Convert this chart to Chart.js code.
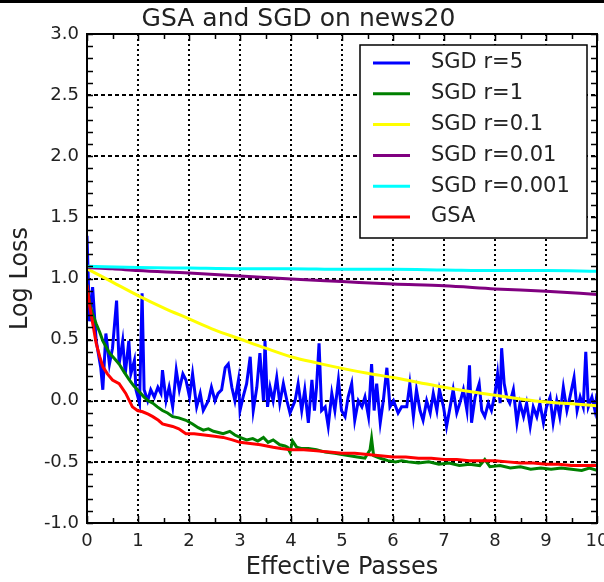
<!DOCTYPE html>
<html>
<head>
<meta charset="utf-8">
<title>GSA and SGD on news20</title>
<script src="https://cdn.jsdelivr.net/npm/chart.js@4.4.0/dist/chart.umd.min.js"></script>
<style>
  html, body { margin: 0; padding: 0; background: #fff; }
  canvas { display: block; }
</style>
</head>
<body>
<canvas id="lossChart" width="604" height="582"></canvas>
<script>
// log loss vs effective passes, [pass, loss]
var sgdR5 = [
  [0, 1.35], [0.05, 0.65], [0.11, 0.93], [0.18, 0.49], [0.27, 0.27], [0.31, 0.09],
  [0.37, 0.55], [0.44, 0.30], [0.50, 0.43], [0.58, 0.82], [0.63, 0.30], [0.70, 0.49],
  [0.75, 0.22], [0.82, 0.49], [0.86, 0.22], [0.93, 0.33], [0.96, 0.09], [1.03, -0.02],
  [1.08, 0.88], [1.12, 0.09], [1.19, 0.00], [1.25, 0.09], [1.32, 0.03], [1.39, 0.11],
  [1.45, 0.06], [1.48, 0.25], [1.55, 0.00], [1.61, 0.11], [1.68, -0.05], [1.75, 0.25],
  [1.81, 0.09], [1.88, 0.22], [1.94, 0.17], [2.01, 0.03], [2.07, 0.22], [2.15, -0.05],
  [2.22, 0.06], [2.28, -0.08], [2.38, 0.00], [2.44, 0.11], [2.51, 0.00], [2.57, 0.06],
  [2.64, 0.09], [2.71, 0.27], [2.77, 0.30], [2.84, 0.11], [2.90, 0.00], [2.97, 0.17],
  [3.00, -0.08], [3.06, 0.03], [3.13, 0.14], [3.20, 0.36], [3.26, -0.08], [3.33, 0.11],
  [3.39, 0.39], [3.46, 0.00], [3.49, 0.49], [3.54, -0.05], [3.59, 0.11], [3.65, 0.00],
  [3.72, 0.19], [3.78, -0.02], [3.85, 0.14], [3.92, 0.00], [3.98, -0.10], [4.08, 0.00],
  [4.14, 0.14], [4.21, -0.08], [4.27, 0.09], [4.34, -0.18], [4.41, 0.17], [4.46, -0.08],
  [4.50, 0.11], [4.55, 0.47], [4.60, -0.08], [4.67, -0.05], [4.73, -0.21], [4.80, 0.06],
  [4.86, -0.08], [4.93, 0.17], [4.99, -0.08], [5.06, -0.13], [5.12, 0.03], [5.19, 0.14],
  [5.25, -0.16], [5.32, 0.00], [5.39, -0.05], [5.45, 0.03], [5.52, -0.13], [5.58, 0.30],
  [5.63, -0.08], [5.68, 0.14], [5.75, -0.18], [5.81, 0.00], [5.88, 0.27], [5.94, -0.05],
  [6.01, 0.00], [6.10, -0.10], [6.17, -0.05], [6.27, -0.05], [6.33, 0.14], [6.40, -0.13],
  [6.46, 0.09], [6.53, -0.08], [6.59, -0.16], [6.66, 0.00], [6.73, -0.10], [6.79, 0.06],
  [6.86, -0.08], [6.91, 0.09], [6.99, -0.05], [7.05, -0.21], [7.12, -0.05], [7.18, 0.09],
  [7.25, -0.10], [7.31, -0.02], [7.38, 0.09], [7.45, -0.08], [7.50, 0.29], [7.54, -0.18],
  [7.61, 0.03], [7.69, 0.14], [7.74, -0.08], [7.80, -0.13], [7.87, -0.02], [7.93, -0.08],
  [8.00, 0.06], [8.05, 0.22], [8.10, -0.02], [8.13, 0.43], [8.18, 0.14], [8.23, 0.03],
  [8.29, -0.02], [8.36, 0.09], [8.43, -0.18], [8.49, -0.02], [8.56, -0.13], [8.62, -0.02],
  [8.69, -0.21], [8.75, -0.05], [8.82, -0.13], [8.88, -0.02], [8.95, -0.18], [9.01, -0.05],
  [9.08, 0.03], [9.14, -0.18], [9.21, 0.00], [9.27, -0.13], [9.34, 0.11], [9.41, -0.08],
  [9.47, 0.03], [9.55, 0.19], [9.61, -0.08], [9.67, 0.03], [9.73, -0.05], [9.78, 0.40],
  [9.83, -0.05], [9.90, 0.03], [9.96, -0.08], [10, 0.06]
];
var sgdR1 = [
  [0, 0.95], [0.05, 0.80], [0.10, 0.72], [0.18, 0.63], [0.25, 0.56], [0.31, 0.49],
  [0.44, 0.39], [0.55, 0.34], [0.63, 0.30], [0.72, 0.24], [0.83, 0.17], [0.92, 0.12],
  [0.99, 0.09], [1.12, 0.03], [1.20, 0.00], [1.29, -0.02], [1.38, -0.05], [1.48, -0.08],
  [1.58, -0.10], [1.68, -0.13], [1.80, -0.14], [1.94, -0.16], [2.07, -0.19], [2.18, -0.22],
  [2.28, -0.24], [2.38, -0.23], [2.48, -0.25], [2.58, -0.26], [2.67, -0.27], [2.80, -0.25],
  [2.90, -0.28], [3.00, -0.30], [3.13, -0.32], [3.25, -0.31], [3.35, -0.33], [3.46, -0.30],
  [3.55, -0.34], [3.65, -0.32], [3.78, -0.36], [3.88, -0.37], [3.93, -0.38], [3.98, -0.42],
  [4.03, -0.33], [4.11, -0.38], [4.20, -0.39], [4.34, -0.39], [4.50, -0.40], [4.67, -0.42],
  [4.86, -0.43], [5.00, -0.44], [5.15, -0.45], [5.30, -0.46], [5.45, -0.47], [5.55, -0.40],
  [5.58, -0.31], [5.62, -0.45], [5.75, -0.47], [5.90, -0.49], [6.05, -0.50], [6.17, -0.49],
  [6.30, -0.50], [6.50, -0.51], [6.70, -0.50], [6.90, -0.52], [7.10, -0.51], [7.30, -0.53],
  [7.50, -0.52], [7.70, -0.53], [7.80, -0.48], [7.90, -0.54], [8.10, -0.53], [8.30, -0.55],
  [8.50, -0.54], [8.70, -0.56], [8.90, -0.55], [9.10, -0.56], [9.30, -0.55], [9.50, -0.56],
  [9.70, -0.57], [9.85, -0.55], [10, -0.57]
];
var sgdR01 = [
  [0, 1.08], [0.5, 0.97], [1, 0.86], [1.5, 0.76], [2, 0.67], [2.5, 0.58], [3, 0.505],
  [3.5, 0.43], [4, 0.36], [4.5, 0.31], [5, 0.265], [5.5, 0.225], [6, 0.19], [6.5, 0.15],
  [7, 0.11], [7.5, 0.075], [8, 0.045], [8.5, 0.015], [9, -0.01], [9.5, -0.025], [10, -0.04]
];
var sgdR001 = [
  [0, 1.09], [0.5, 1.08], [1, 1.065], [2, 1.045], [3, 1.02], [4, 0.995], [5, 0.975],
  [6, 0.955], [7, 0.94], [8, 0.915], [9, 0.895], [10, 0.87]
];
var sgdR0001 = [
  [0, 1.10], [1, 1.09], [2, 1.085], [3, 1.08], [4, 1.08], [5, 1.075], [6, 1.075],
  [7, 1.07], [8, 1.065], [9, 1.065], [10, 1.06]
];
var gsa = [
  [0, 0.95], [0.05, 0.78], [0.10, 0.66], [0.18, 0.47], [0.25, 0.36], [0.31, 0.28],
  [0.40, 0.22], [0.50, 0.17], [0.63, 0.14], [0.76, 0.06], [0.89, -0.05], [0.99, -0.08],
  [1.09, -0.09], [1.20, -0.11], [1.29, -0.13], [1.40, -0.16], [1.48, -0.19], [1.58, -0.20],
  [1.68, -0.21], [1.80, -0.23], [1.94, -0.27], [2.10, -0.27], [2.30, -0.28], [2.50, -0.29],
  [2.67, -0.30], [2.85, -0.32], [3.00, -0.34], [3.20, -0.35], [3.40, -0.36], [3.65, -0.38],
  [3.80, -0.39], [4.00, -0.40], [4.25, -0.40], [4.50, -0.41], [4.75, -0.42], [5.00, -0.43],
  [5.25, -0.43], [5.50, -0.44], [5.75, -0.45], [6.00, -0.46], [6.25, -0.46], [6.50, -0.47],
  [6.75, -0.47], [7.00, -0.48], [7.25, -0.48], [7.50, -0.49], [7.75, -0.49], [8.00, -0.49],
  [8.25, -0.50], [8.50, -0.51], [8.75, -0.51], [9.00, -0.52], [9.25, -0.52], [9.50, -0.53],
  [9.75, -0.53], [10, -0.53]
];

var seriesLabels = ['SGD r=5', 'SGD r=1', 'SGD r=0.1', 'SGD r=0.01', 'SGD r=0.001', 'GSA'];
var seriesColors = ['#0000ff', '#008000', '#ffff00', '#800080', '#00ffff', '#ff0000'];
var seriesData = [sgdR5, sgdR1, sgdR01, sgdR001, sgdR0001, gsa];
var smoothSeries = [false, false, true, true, true, false];

var xTickStep = 1, yTickStep = 0.5;
var xRange = [0, 10], yRange = [-1, 3];

var FONT = 'DejaVu Sans';

// frame, inward tick marks and boxed legend, matplotlib style
var plotDecor = {
  id: 'plotDecor',
  beforeDraw: function(chart) {
    var ctx = chart.ctx;
    ctx.save();
    ctx.fillStyle = '#fff';
    ctx.fillRect(0, 0, chart.width, chart.height);
    ctx.fillStyle = '#000';
    ctx.fillRect(0, 0, chart.width, 3);
    ctx.restore();
  },
  afterDraw: function(chart) {
    var ctx = chart.ctx, a = chart.chartArea;
    var xs = chart.scales.x, ys = chart.scales.y;
    ctx.save();
    ctx.strokeStyle = '#000';
    ctx.lineWidth = 1.5;
    ctx.beginPath();
    for (var i = 0; i <= 20; i++) {
      var px = Math.round(xs.getPixelForValue(i / 2)) + 0.5;
      var len = i % 2 === 0 ? 7 : 5;
      ctx.moveTo(px, a.bottom); ctx.lineTo(px, a.bottom - len);
      ctx.moveTo(px, a.top); ctx.lineTo(px, a.top + len);
    }
    for (var k = -10; k <= 30; k++) {
      var py = Math.round(ys.getPixelForValue(k / 10)) + 0.5;
      ctx.moveTo(a.left, py); ctx.lineTo(a.left + 6, py);
      ctx.moveTo(a.right, py); ctx.lineTo(a.right - 6, py);
    }
    ctx.stroke();

    ctx.lineWidth = 2;
    ctx.strokeRect(a.left, a.top, a.right - a.left, a.bottom - a.top);

    // legend box
    var box = { left: 360, top: 45, width: 227, height: 193 };
    ctx.fillStyle = '#fff';
    ctx.fillRect(box.left, box.top, box.width, box.height);
    ctx.lineWidth = 1.5;
    ctx.strokeRect(box.left, box.top, box.width, box.height);
    ctx.font = '21px "' + FONT + '"';
    ctx.textBaseline = 'middle';
    ctx.textAlign = 'left';
    chart.data.datasets.forEach(function(ds, i) {
      var ry = box.top + 18 + i * 30.8;
      ctx.strokeStyle = ds.borderColor;
      ctx.lineWidth = 3;
      ctx.beginPath();
      ctx.moveTo(box.left + 13, ry);
      ctx.lineTo(box.left + 50, ry);
      ctx.stroke();
      ctx.fillStyle = '#222';
      ctx.fillText(ds.label, box.left + 71, ry);
    });
    ctx.restore();
  }
};

var datasets = seriesData.map(function(pts, i) {
  return {
    label: seriesLabels[i],
    data: pts.map(function(p) { return { x: p[0], y: p[1] }; }),
    borderColor: seriesColors[i],
    backgroundColor: seriesColors[i],
    borderWidth: 3,
    pointRadius: 0,
    fill: false,
    tension: 0,
    cubicInterpolationMode: smoothSeries[i] ? 'monotone' : 'default',
    order: seriesData.length - i
  };
});

var tickFont = { family: FONT, size: 18 };

new Chart(document.getElementById('lossChart'), {
  type: 'line',
  data: { datasets: datasets },
  options: {
    responsive: false,
    animation: false,
    layout: { padding: { left: 0, right: 7, top: 0, bottom: 0 } },
    plugins: {
      legend: { display: false },
      tooltip: { enabled: false },
      title: {
        display: true,
        text: 'GSA and SGD on news20',
        color: '#222',
        font: { family: FONT, size: 25, weight: 'normal' },
        padding: { top: 4, bottom: 0 }
      }
    },
    scales: {
      x: {
        type: 'linear',
        min: xRange[0],
        max: xRange[1],
        ticks: { stepSize: xTickStep, color: '#222', font: tickFont, padding: 8, maxRotation: 0, autoSkip: false },
        grid: { color: '#000', lineWidth: 2, drawTicks: false },
        border: { display: false, dash: [2, 3] },
        title: {
          display: true,
          text: 'Effective Passes',
          color: '#222',
          font: { family: FONT, size: 24 },
          padding: { top: 0, bottom: 0 }
        },
        afterFit: function(s) { s.height = 59; s.paddingLeft = 0; s.paddingRight = 0; }
      },
      y: {
        type: 'linear',
        min: yRange[0],
        max: yRange[1],
        ticks: {
          stepSize: yTickStep, color: '#222', font: tickFont, padding: 8, autoSkip: false,
          callback: function(v) { return v.toFixed(1); }
        },
        grid: { color: '#000', lineWidth: 2, drawTicks: false },
        border: { display: false, dash: [4, 3] },
        title: {
          display: true,
          text: 'Log Loss',
          color: '#222',
          font: { family: FONT, size: 24 },
          padding: { top: 6, bottom: 0 }
        },
        afterFit: function(s) { s.width = 87; s.paddingTop = 0; s.paddingBottom = 0; }
      }
    }
  },
  plugins: [plotDecor]
});
</script>
</body>
</html>
